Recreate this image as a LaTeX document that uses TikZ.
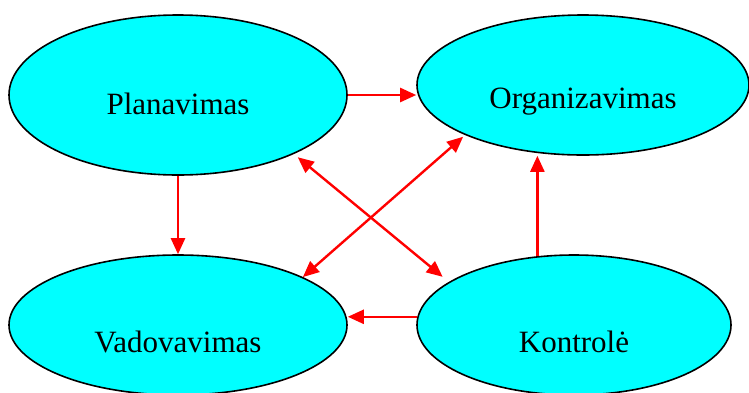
\documentclass[tikz,border=0pt]{standalone}
\usepackage{fontspec}
\setmainfont{Liberation Serif}
\usetikzlibrary{shapes.geometric,arrows.meta}
\definecolor{aqua}{RGB}{0,255,255}
\tikzset{
oval/.style={
  ellipse,
  draw=black,
  line width=0.8pt,
  fill=aqua,
  inner sep=0pt,
  text depth=0pt,
  font=\fontsize{15.5}{18}\selectfont
  },
link/.style={
  red,
  line width=1.2pt
  }
}

\begin{document}
\begin{tikzpicture}[x=0.5pt,y=-0.5pt,>={Triangle[length=8pt,width=7pt]}]
\useasboundingbox (0,0) rectangle (749,392);

\node[oval,minimum width=169pt,minimum height=80pt,text height=19pt] at (178,95) (plan) {Planavimas};
\node[oval,minimum width=166pt,minimum height=70pt,text height=23pt] at (583,85) (org) {Organizavimas};
\node[oval,minimum width=169pt,minimum height=70pt,text height=27pt] at (178,325) (vad) {Vadovavimas};
\node[oval,minimum width=157pt,minimum height=70pt,text height=27pt] at (574,325) (kon) {Kontrolė};

\path[link,->] (plan.east) edge (org.west |- plan.east);
\path[link,->] (plan.south) edge (vad.north);
\path[link,->] (kon.118.5) edge (kon.118.5 |- org.south);
\path[link,->] (kon.177) edge (kon.177 -| vad.east);
\path[link,<->] (plan.333.2) edge[shorten <=2.5pt,shorten >=4pt] (kon.161.4);
\path[link,<->] (org.203.4) edge[shorten <=1.3pt] (vad.21.8);

\end{tikzpicture}
\end{document}
